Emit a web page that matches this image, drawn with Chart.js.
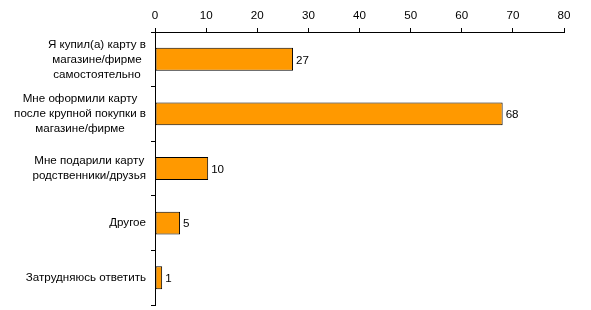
<!DOCTYPE html>
<html>
<head>
<meta charset="utf-8">
<script src="https://cdn.jsdelivr.net/npm/chart.js@4"></script>
<style>
  html, body { margin: 0; padding: 0; background: #fff; }
</style>
</head>
<body>
<canvas id="chart" width="591" height="310"></canvas>
<script>
// categories (multi-line labels)
const categories = [
  ['Я купил(а) карту в', 'магазине/фирме', 'самостоятельно'],
  ['Мне оформили карту', 'после крупной покупки в', 'магазине/фирме'],
  ['Мне подарили карту', 'родственники/друзья'],
  ['Другое'],
  ['Затрудняюсь ответить']
];
const values = [27, 68, 10.4, 4.9, 1.4];
const valueLabels = ['27', '68', '10', '5', '1'];
const xMin = 0, xMax = 80, xStep = 10;

const FONT = '11px "Liberation Sans", Arial, sans-serif';
const CAT_FONT = '11.6px "Liberation Sans", Arial, sans-serif';

Chart.defaults.font.family = '"Liberation Sans", Arial, sans-serif';
Chart.defaults.font.size = 11;
Chart.defaults.color = '#000';

// Excel-style category labels: each block right-aligned, lines centred inside it
const categoryLabels = {
  id: 'categoryLabels',
  afterDraw(chart) {
    const ctx = chart.ctx;
    const scale = chart.scales.y;
    const lineH = 15;
    const right = scale.right - 9;
    ctx.save();
    ctx.font = CAT_FONT;
    ctx.fillStyle = '#000';
    ctx.textAlign = 'center';
    ctx.textBaseline = 'middle';
    categories.forEach((lines, i) => {
      const y = scale.getPixelForValue(i);
      const w = Math.max(...lines.map(l => ctx.measureText(l).width));
      const cx = right - w / 2;
      const y0 = y - (lines.length - 1) * lineH / 2;
      lines.forEach((l, j) => ctx.fillText(l, cx, y0 + j * lineH));
    });
    ctx.restore();
  }
};

const valueTags = {
  id: 'valueTags',
  afterDatasetsDraw(chart) {
    const ctx = chart.ctx;
    const meta = chart.getDatasetMeta(0);
    ctx.save();
    ctx.font = CAT_FONT;
    ctx.fillStyle = '#000';
    ctx.textAlign = 'left';
    ctx.textBaseline = 'middle';
    meta.data.forEach((bar, i) => {
      ctx.fillText(valueLabels[i], bar.x + 3, bar.y + 1);
    });
    ctx.restore();
  }
};

new Chart(document.getElementById('chart'), {
  type: 'bar',
  data: {
    labels: categories.map(c => c.join(' ')),
    datasets: [{
      data: values,
      backgroundColor: '#FF9900',
      borderColor: '#000',
      borderWidth: 1,
      borderSkipped: false,
      barPercentage: 0.42,
      categoryPercentage: 1
    }]
  },
  options: {
    indexAxis: 'y',
    responsive: false,
    animation: false,
    layout: { padding: { top: 0, right: 27, bottom: 5, left: 0 } },
    plugins: {
      legend: { display: false },
      tooltip: { enabled: false },
      title: { display: false }
    },
    scales: {
      x: {
        position: 'top',
        min: xMin,
        max: xMax,
        ticks: { stepSize: xStep, padding: 5, color: '#000', font: { size: 11.6 } },
        grid: { drawOnChartArea: false, drawTicks: true, tickLength: 4, color: '#000' },
        border: { color: '#000', width: 1 },
        afterFit(scale) { scale.height = 32; }
      },
      y: {
        ticks: { display: false },
        grid: { offset: true, drawOnChartArea: false, drawTicks: true, tickLength: 4, color: '#000' },
        border: { color: '#000', width: 1 },
        afterFit(scale) { scale.width = 155; }
      }
    }
  },
  plugins: [categoryLabels, valueTags]
});
</script>
</body>
</html>
